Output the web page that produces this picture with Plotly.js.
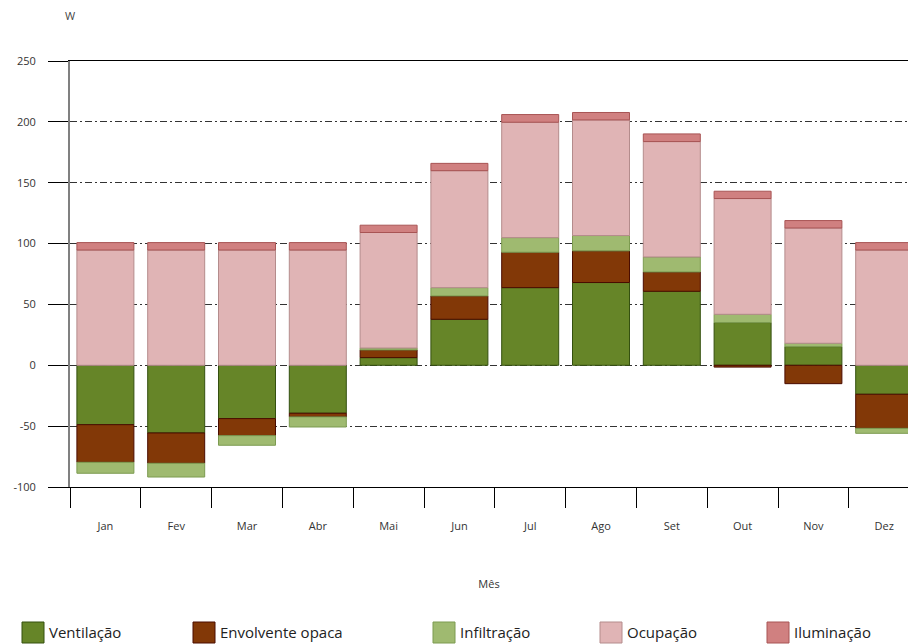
<!DOCTYPE html>
<html>
<head>
<meta charset="utf-8">
<script src="https://cdn.plot.ly/plotly-3.0.1.min.js"></script>
<style>html,body{margin:0;padding:0;background:#fff;}#chart{width:908px;height:644px;}</style>
</head>
<body>
<div id="chart"></div>
<script>
// ---- data ----
const months = ["Jan","Fev","Mar","Abr","Mai","Jun","Jul","Ago","Set","Out","Nov","Dez"];
const seriesNames = ["Ventilação","Envolvente opaca","Infiltração","Ocupação","Iluminação"];
const ventilacao = [-48.8,-55.6,-43.8,-39.4,6.3,37.8,63.8,68.0,60.8,35.1,15.3,-23.8];
const envolvente = [-30.9,-24.9,-14.0,-3.0,6.3,19.2,29.1,26.0,15.9,-1.5,-15.1,-28.0];
const infiltracao = [-9.0,-11.3,-7.9,-8.3,1.6,6.8,12.0,12.6,12.3,6.8,2.8,-4.1];
const ocupacao = [94.7,94.7,94.7,94.7,94.9,96.1,94.8,95.0,94.8,95.1,94.7,94.7];
const iluminacao = [6.1,6.1,6.1,6.1,6.0,6.0,6.3,6.1,6.3,6.0,6.1,6.1];
const yTicks = [-100,-50,0,50,100,150,200,250];

// ---- styles ----
const fills = ["#668528","#823807","#9fba70","#e0b4b5","#d08080"];
const borders = ["#34500f","#4a0c00","#7c9b50","#b48c8c","#a85454"];
const values = [ventilacao, envolvente, infiltracao, ocupacao, iluminacao];

const W = 908, H = 644;
const M = {l:70, r:0, t:61, b:157};
const plotW = W - M.l - M.r, plotH = H - M.t - M.b;
const toPX = px => (px - M.l) / plotW;
const toPY = py => (H - M.b - py) / plotH;

const traces = values.map((v,i) => ({
  type:"bar", name: seriesNames[i], x: months, y: v,
  marker:{color: fills[i], line:{color: borders[i], width:1}},
  width: 0.805, showlegend:false, hoverinfo:"x+y+name"
}));

// custom legend (big square swatches)
const legendX = [22,193,433,600,767];
const shapes = [];
const annotations = [];
seriesNames.forEach((n,i) => {
  shapes.push({type:"rect", xref:"paper", yref:"paper",
    x0: toPX(legendX[i]), x1: toPX(legendX[i]+22),
    y0: toPY(643), y1: toPY(622),
    fillcolor: fills[i], line:{color: borders[i], width:1}});
  annotations.push({xref:"paper", yref:"paper", x: toPX(legendX[i]+25), y: toPY(632),
    text: n, showarrow:false, xanchor:"left", yanchor:"middle",
    font:{family:"Open Sans, sans-serif", size:15, color:"#222"}});
});
annotations.push({xref:"paper", yref:"paper", x: toPX(70), y: toPY(16),
  text:"W", showarrow:false, xanchor:"center", yanchor:"middle",
  font:{family:"Open Sans, sans-serif", size:11, color:"#444"}});

const layout = {
  width: W, height: H,
  margin: M,
  paper_bgcolor:"#fff", plot_bgcolor:"#fff",
  barmode:"relative",
  font:{family:"Open Sans, sans-serif", size:11, color:"#333"},
  xaxis:{
    type:"category", range:[-0.5, -0.5 + plotW/70.8],
    tickson:"boundaries", ticks:"outside", ticklen:20, tickcolor:"#000", tickwidth:1,
    ticklabelstandoff:29,
    showline:true, linecolor:"#000", linewidth:1, mirror:true,
    showgrid:false, zeroline:false,
    tickfont:{size:11, color:"#333"},
    title:{text:"Mês", standoff:48, font:{size:11, color:"#333"}},
    automargin:false
  },
  yaxis:{
    range:[-100,250], tickvals:yTicks, ticktext: yTicks.map(String),
    ticks:"outside", ticklen:20, tickcolor:"#000", tickwidth:1,
    ticklabelstandoff:10,
    showline:true, linecolor:"#808080", linewidth:2,
    showgrid:true, gridcolor:"#333", gridwidth:1, griddash:"7px,3px,2px,3px",
    zeroline:false,
    tickfont:{size:11, color:"#333"},
    automargin:false
  },
  shapes: shapes,
  annotations: annotations
};

Plotly.newPlot("chart", traces, layout, {displayModeBar:false, staticPlot:true});
</script>
</body>
</html>
